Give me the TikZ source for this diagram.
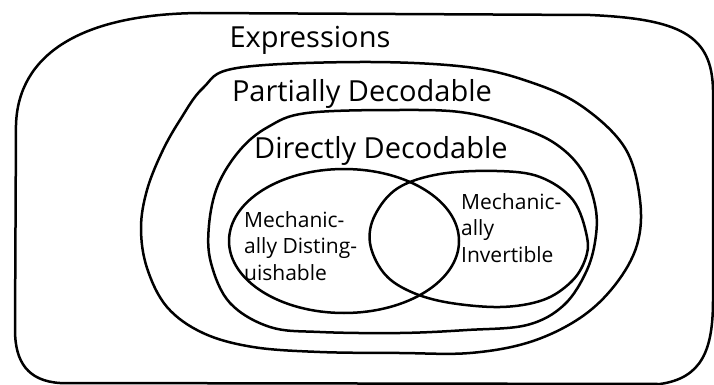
\documentclass[tikz,border=0pt]{standalone}
\usepackage{fontspec}
\setmainfont{Open Sans}
\begin{document}
\begin{tikzpicture}[x=1pt,y=-1pt,
  setline/.style={line width=2.5pt,line join=round,line cap=round},
  biglbl/.style={inner sep=0pt,anchor=base,font=\fontsize{29}{34}\selectfont},
  smalllbl/.style={inner sep=0pt,align=left,anchor=north west,font=\fontsize{21}{26.5}\selectfont}]
\useasboundingbox (0,0) rectangle (714,385);
% outer boundary (Expressions)
\draw[setline] (200,13) -- (590,15) .. controls (680,19) and (712,35) .. (713,90)
  -- (713,300) .. controls (713,350) and (702,378) .. (660,384)
  -- (60,383) .. controls (28,381) and (15,362) .. (15,330)
  -- (16,125) .. controls (18,55) and (80,14) .. (200,13) -- cycle;
% Partially Decodable
\draw[setline] plot[smooth cycle,tension=0.6] coordinates {
  (237,68) (360,62) (467,67) (533,83) (583,107) (625,148) (640,200) (637,245)
  (615,285) (580,318) (530,342) (470,353) (400,353) (320,352) (253,347) (203,333)
  (167,307) (147,268) (141,228) (147,190) (162,152) (180,120) (203,88)};
% Directly Decodable
\draw[setline] plot[smooth cycle,tension=0.6] coordinates {
  (307,113) (400,110) (467,113) (527,130) (560,147) (583,172) (595,205) (596,235)
  (587,270) (564,305) (527,325) (467,330) (400,333) (320,332) (270,327) (230,303)
  (211,263) (209,225) (218,185) (240,150) (268,127)};
% Mechanically Distinguishable
\draw[setline] (344,241) ellipse [x radius=115pt,y radius=72pt];
% Mechanically Invertible
\draw[setline] plot[smooth cycle,tension=0.6] coordinates {
  (370,243) (375,215) (398,188) (440,174) (497,171) (540,177) (573,200) (587,237)
  (585,260) (571,282) (543,300) (500,307) (445,302) (407,290) (383,272)};
% labels
\node[biglbl] (expr) at (310,48) {Expressions};
\node[biglbl] (pd) at (362,102) {Partially Decodable};
\node[biglbl] (dd) at (381,158) {Directly Decodable};
\node[smalllbl] (md) at (244,211) {Mechanic-\\ally Disting-\\uishable};
\node[smalllbl] (mi) at (461,193) {Mechanic-\\ally\\Invertible};
\end{tikzpicture}
\end{document}
